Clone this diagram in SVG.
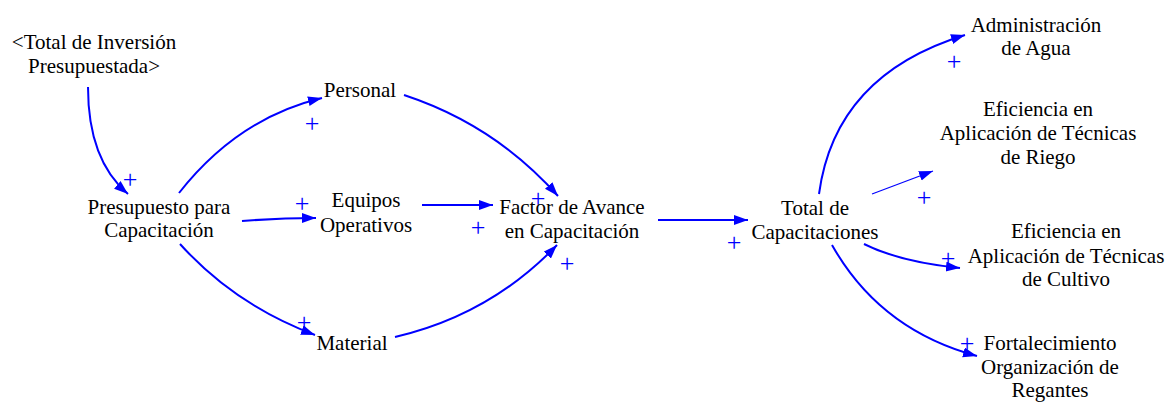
<svg xmlns="http://www.w3.org/2000/svg" width="1173" height="403" viewBox="0 0 1173 403">
  <defs>
    <marker id="head" markerUnits="userSpaceOnUse" markerWidth="15" markerHeight="11" refX="14" refY="5" orient="auto">
      <path d="M0,0 L14,5 L0,10 z" fill="#0000ff"/>
    </marker>
  </defs>
  <rect width="1173" height="403" fill="#ffffff"/>

  <!-- causal links -->
  <g id="connectors" fill="none" stroke="#0000ff" stroke-width="2" marker-end="url(#head)">
    <path d="M88,87 Q88,160 128,194"/>
    <path d="M179,193 Q238,118 322,98"/>
    <path d="M242,221 Q280,218 316,218"/>
    <path d="M180,244 Q235,305 315,335"/>
    <path d="M404,95 Q495,125 558,196"/>
    <path d="M422,205 L493,205"/>
    <path d="M395,337 Q490,315 557,245"/>
    <path d="M658,220 L748,220"/>
    <path d="M819,194 Q835,75 965,35"/>
    <path d="M872,194 L933,171" stroke-width="1.2"/>
    <path d="M864,244 Q900,262 960,268"/>
    <path d="M832,245 Q880,330 977,356"/>
  </g>

  <!-- link polarity signs -->
  <g id="polarities">
    <text x="130" y="188" font-family="serif" font-size="26" fill="#0000ff" text-anchor="middle">+</text>
    <text x="312" y="132" font-family="serif" font-size="26" fill="#0000ff" text-anchor="middle">+</text>
    <text x="302" y="212" font-family="serif" font-size="26" fill="#0000ff" text-anchor="middle">+</text>
    <text x="304" y="331" font-family="serif" font-size="26" fill="#0000ff" text-anchor="middle">+</text>
    <text x="538" y="207" font-family="serif" font-size="26" fill="#0000ff" text-anchor="middle">+</text>
    <text x="478" y="236" font-family="serif" font-size="26" fill="#0000ff" text-anchor="middle">+</text>
    <text x="567" y="272" font-family="serif" font-size="26" fill="#0000ff" text-anchor="middle">+</text>
    <text x="734" y="251" font-family="serif" font-size="26" fill="#0000ff" text-anchor="middle">+</text>
    <text x="954" y="70" font-family="serif" font-size="26" fill="#0000ff" text-anchor="middle">+</text>
    <text x="924" y="206" font-family="serif" font-size="26" fill="#0000ff" text-anchor="middle">+</text>
    <text x="948" y="267" font-family="serif" font-size="26" fill="#0000ff" text-anchor="middle">+</text>
    <text x="967" y="352" font-family="serif" font-size="26" fill="#0000ff" text-anchor="middle">+</text>
  </g>

  <g id="total-inversion">
    <text x="94" y="49" font-family="serif" font-size="21" text-anchor="middle">&lt;Total de Inversión</text>
    <text x="94" y="73" font-family="serif" font-size="21" text-anchor="middle">Presupuestada&gt;</text>
  </g>
  <g id="presupuesto">
    <text x="159" y="214" font-family="serif" font-size="21" text-anchor="middle">Presupuesto para</text>
    <text x="159" y="237" font-family="serif" font-size="21" text-anchor="middle">Capacitación</text>
  </g>
  <g id="personal">
    <text x="360" y="97" font-family="serif" font-size="21" text-anchor="middle">Personal</text>
  </g>
  <g id="equipos">
    <text x="366" y="207" font-family="serif" font-size="21" text-anchor="middle">Equipos</text>
    <text x="366" y="232" font-family="serif" font-size="21" text-anchor="middle">Operativos</text>
  </g>
  <g id="material">
    <text x="352" y="350" font-family="serif" font-size="21" text-anchor="middle">Material</text>
  </g>
  <g id="factor-avance">
    <text x="572" y="214" font-family="serif" font-size="21" text-anchor="middle">Factor de Avance</text>
    <text x="572" y="238" font-family="serif" font-size="21" text-anchor="middle">en Capacitación</text>
  </g>
  <g id="total-capacitaciones">
    <text x="815" y="215" font-family="serif" font-size="21" text-anchor="middle">Total de</text>
    <text x="815" y="239" font-family="serif" font-size="21" text-anchor="middle">Capacitaciones</text>
  </g>
  <g id="administracion-agua">
    <text x="1036" y="32" font-family="serif" font-size="21" text-anchor="middle">Administración</text>
    <text x="1036" y="55" font-family="serif" font-size="21" text-anchor="middle">de Agua</text>
  </g>
  <g id="eficiencia-riego">
    <text x="1038" y="116" font-family="serif" font-size="21" text-anchor="middle">Eficiencia en</text>
    <text x="1038" y="140" font-family="serif" font-size="21" text-anchor="middle">Aplicación de Técnicas</text>
    <text x="1038" y="164" font-family="serif" font-size="21" text-anchor="middle">de Riego</text>
  </g>
  <g id="eficiencia-cultivo">
    <text x="1066" y="238" font-family="serif" font-size="21" text-anchor="middle">Eficiencia en</text>
    <text x="1066" y="263" font-family="serif" font-size="21" text-anchor="middle">Aplicación de Técnicas</text>
    <text x="1066" y="286" font-family="serif" font-size="21" text-anchor="middle">de Cultivo</text>
  </g>
  <g id="fortalecimiento">
    <text x="1050" y="350" font-family="serif" font-size="21" text-anchor="middle">Fortalecimiento</text>
    <text x="1050" y="374" font-family="serif" font-size="21" text-anchor="middle">Organización de</text>
    <text x="1050" y="397" font-family="serif" font-size="21" text-anchor="middle">Regantes</text>
  </g>
</svg>
